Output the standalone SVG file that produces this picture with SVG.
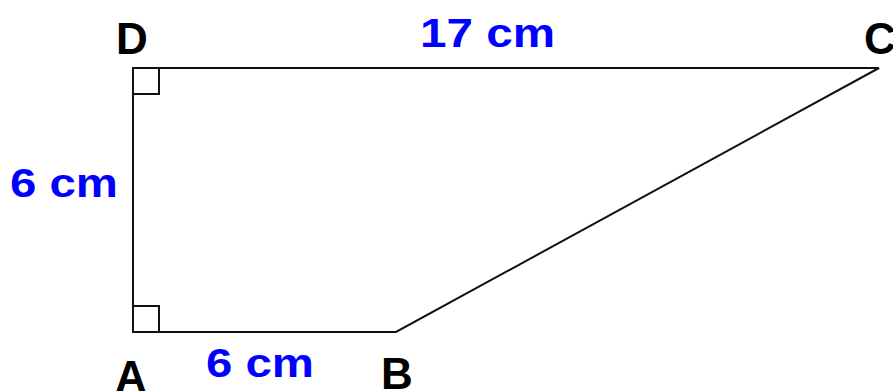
<svg xmlns="http://www.w3.org/2000/svg" width="893" height="391" viewBox="0 0 893 391">
<style>
.edge{fill:none;stroke:#111;stroke-width:2}
.pt{font-family:"Liberation Sans",Arial,sans-serif;font-weight:bold;font-size:44px;fill:#000}
.len{font-family:"Liberation Sans",Arial,sans-serif;font-weight:bold;font-size:40px;fill:#0000ff}
</style>
<rect width="893" height="391" fill="#fff"/>
<g id="connectors">
<polygon class="edge" points="133,68 879,68 396,332 133,332"/>
<path class="edge" d="M133,94 H159 V68"/>
<path class="edge" d="M133,306 H159 V332"/>
</g>
<g id="A"><text class="pt" x="131" y="392" text-anchor="middle">A</text></g>
<g id="B"><text class="pt" x="397" y="389" text-anchor="middle">B</text></g>
<g id="C"><text class="pt" x="880" y="54" text-anchor="middle">C</text></g>
<g id="D"><text class="pt" x="132" y="54" text-anchor="middle">D</text></g>
<g id="lenDC"><text class="len" x="420" y="47" textLength="135" lengthAdjust="spacingAndGlyphs">17 cm</text></g>
<g id="lenAD"><text class="len" x="10" y="197" textLength="108" lengthAdjust="spacingAndGlyphs">6 cm</text></g>
<g id="lenAB"><text class="len" x="206" y="377" textLength="108" lengthAdjust="spacingAndGlyphs">6 cm</text></g>
</svg>
